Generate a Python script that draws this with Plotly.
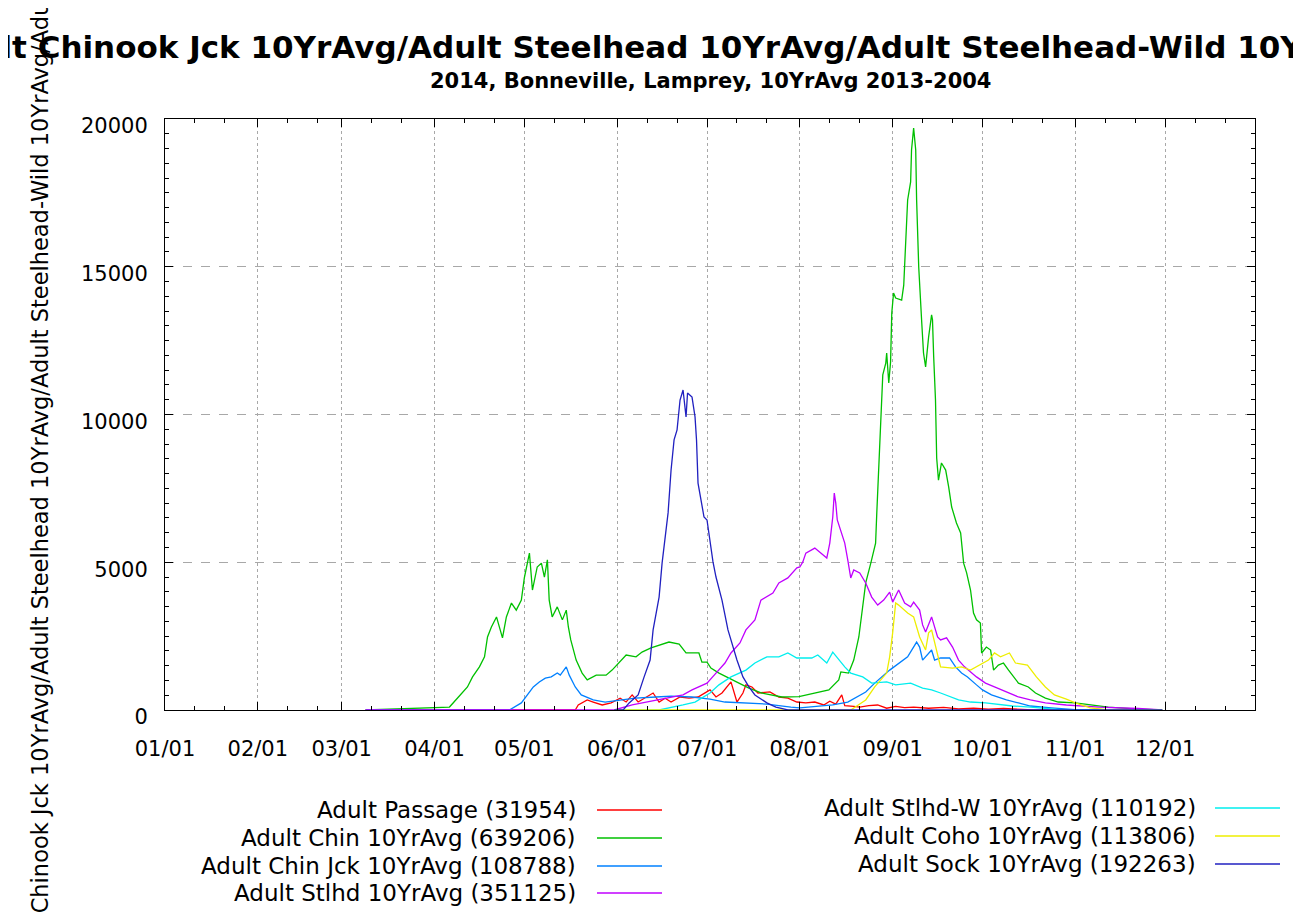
import plotly.graph_objects as go
import pandas as pd

# ---------------- data (day offsets from 2014-01-01, daily counts) ----------------
red_days = [67, 137, 138, 141, 143, 146, 149, 152, 154, 156, 158, 161, 163, 165, 167, 169, 172, 175, 178,
            182, 184, 186, 188, 189, 191, 193, 194, 196, 198, 202, 205, 208, 211, 214, 217, 220, 222, 224,
            226, 227, 230, 232, 235, 238, 241, 244, 247, 250, 255, 260, 265, 270, 275, 280, 290, 333]
red_vals = [0, 0, 170, 340, 270, 170, 240, 400, 270, 510, 270, 440, 575, 270, 400, 270, 440, 400, 440,
            680, 440, 575, 850, 950, 270, 575, 850, 780, 575, 610, 440, 400, 270, 240, 270, 170, 300, 200,
            510, 150, 120, 100, 150, 170, 60, 120, 80, 100, 60, 90, 40, 60, 30, 50, 0, 0]

green_days = [67, 95, 98, 101, 102.7, 105, 106.7, 107.7, 109, 110.7, 112.7, 114, 115.7, 117.3, 119, 120,
              121.7, 122.7, 124.3, 125.7, 126.7, 127.7, 128.3, 129.3, 131, 132.7, 134, 134.7, 135.5, 137.3,
              139.3, 141, 144, 147.3, 149.3, 151.7, 154, 157.3, 159.3, 162.3, 165, 168.3, 171.7, 172.7,
              174, 178.3, 179.3, 181, 182.3, 185, 189.3, 195, 199.3, 206, 211.7, 217.3, 221.7, 225, 225.7,
              228.3, 230, 231.7, 232.7, 234, 235.7, 237.3, 237.7, 238.3, 239, 239.7, 240.7, 241, 241.7,
              242.3, 242.7, 243.3, 244, 246, 246.7, 247.3, 248, 249, 249.3, 250, 250.7, 251, 251.7, 252.7,
              253.3, 254, 255, 256, 256.3, 256.7, 257.3, 257.7, 258.3, 259.3, 260.7, 261.7, 262.7, 264.3,
              265.7, 266.7, 267.7, 269, 270, 271, 272.3, 272.7, 274.3, 275.7, 276.7, 278.3, 280, 281.7,
              283.3, 285, 288.3, 290.7, 294, 298.3, 304, 315, 325, 333]
green_vals = [0, 100, 440, 780, 1120, 1460, 1800, 2470, 2810, 3150, 2440, 3150, 3620, 3380, 3720, 4470,
              5310, 4060, 4840, 4970, 4500, 5080, 3720, 3150, 3490, 3050, 3380, 2810, 2370, 1690,
              1250, 1020, 1180, 1180, 1350, 1620, 1860, 1800, 1960, 2100, 2200, 2300, 2230, 2100,
              1930, 1930, 1620, 1620, 1420, 1250, 1020, 740, 575, 440, 450, 575, 680, 1020, 1290,
              1250, 1690, 2470, 3280, 4300, 4970, 5650, 6670, 8190, 10050, 11340, 11740, 12080, 11070,
              11780, 13430, 14110, 13940, 13870, 14380, 15740, 17260, 17870, 18950, 19690, 18950, 17260, 14990, 13130,
              12080, 11610, 12620, 13370, 13200, 11950, 10490, 8530, 7780, 8360, 8120, 7550, 6870, 6330,
              5990, 4970, 4640, 4060, 3280, 3050, 2940, 1930, 2130, 2030, 1350, 1520, 1590, 1350,
              1120, 910, 780, 575, 400, 270, 240, 100, 30, 0]

jack_days = [67, 115, 119, 121, 123, 125, 127, 129, 131, 132, 134, 135, 137, 139, 143, 147, 152, 157, 164, 169,
             176, 182, 187, 192, 201, 209, 212, 223, 228, 234, 237, 242, 245, 248, 251, 252, 253, 255, 256, 257,
             259, 262, 264, 266, 268, 271, 273, 276, 281, 285, 289, 296, 305, 333]
jack_vals = [0, 0, 240, 510, 780, 950, 1080, 1120, 1250, 1180, 1460, 1180, 780, 510, 340, 270, 340, 400, 440, 470,
             440, 370, 270, 240, 200, 100, 70, 170, 270, 610, 910, 1350, 1590, 1800, 2300, 2130, 1690, 1930, 2030, 1690,
             1760, 1760, 1460, 1250, 1120, 850, 680, 510, 340, 240, 135, 70, 0, 0]

stlhd_days = [67, 150, 156, 163, 168, 173, 176, 181, 184, 187, 189, 192, 194, 197, 199, 203, 205, 208, 211, 212,
              213, 214, 217, 221, 222, 223, 223.5, 224, 224.5, 226, 227, 228, 229, 230, 232, 234, 236, 238, 240, 242,
              243, 245, 247, 249, 250, 252, 253, 254, 256, 258, 259, 261, 263, 265, 267, 271, 274, 278, 282, 285,
              289, 294, 301, 312, 325, 333]
stlhd_vals = [0, 0, 170, 300, 400, 510, 680, 910, 1250, 1590, 1930, 2270, 2710, 3050, 3720, 3960, 4300, 4470, 4810, 4840,
              5010, 5310, 5480, 5140, 5650, 6530, 7340, 7000, 6430, 5990, 5650, 5080, 4470, 4740, 4640, 4300, 3820, 3550, 3720, 3990,
              3650, 4060, 3620, 3490, 3650, 3380, 2880, 2640, 3150, 2470, 2370, 2440, 2130, 1690, 1460, 1120, 910, 740, 575, 440,
              340, 240, 170, 100, 50, 0]

wild_days = [150, 165, 173, 177, 182, 185, 189, 194, 197, 201, 205, 208, 211, 216, 218, 221, 223, 225, 227, 229,
             233, 236, 241, 244, 249, 253, 256, 259, 265, 269, 274, 283, 289, 300, 333]
wild_vals = [0, 0, 170, 270, 575, 850, 1120, 1350, 1590, 1800, 1800, 1930, 1760, 1760, 1860, 1590, 1960, 1690, 1460, 1250,
             1120, 910, 950, 850, 910, 740, 680, 575, 340, 270, 240, 135, 100, 0, 0]

coho_days = [150, 229, 234, 237, 241, 242, 243, 244, 245, 248, 250, 252, 254, 255, 256, 258, 259, 263, 266, 269,
             273, 275, 277, 279, 282, 284, 288, 291, 294, 297, 301, 304, 309, 315, 333]
coho_vals = [0, 0, 340, 780, 1250, 1800, 2610, 3620, 3550, 3280, 3150, 2470, 2030, 2610, 2710, 1800, 1460, 1420, 1460, 1350,
             1590, 1690, 1930, 1800, 1930, 1590, 1520, 1120, 780, 510, 370, 240, 70, 0, 0]

sock_days = [150, 153, 155, 158, 160, 162, 163, 165, 166, 168, 169, 170, 171, 172, 173, 174, 174.5, 176, 177, 177.5,
             178, 180, 181, 181.5, 183, 184, 186, 188, 191, 193, 195, 197, 201, 204, 208, 333]
sock_vals = [0, 0, 240, 510, 1120, 1690, 2710, 3820, 4970, 6670, 8120, 9140, 9480, 10490, 10830, 9920, 10730, 10590, 9920, 9140,
             7680, 6530, 6430, 6090, 5010, 4500, 3720, 2710, 1690, 1120, 780, 510, 240, 100, 0, 0]

series_names = ["Adult Passage (31954)", "Adult Chin 10YrAvg (639206)", "Adult Chin Jck 10YrAvg (108788)",
                "Adult Stlhd 10YrAvg (351125)", "Adult Stlhd-W 10YrAvg (110192)", "Adult Coho 10YrAvg (113806)",
                "Adult Sock 10YrAvg (192263)"]
series_colors = ["#ff0000", "#00c000", "#0080ff", "#c000ff", "#00eeee", "#eeee00", "#2020c0"]
series_days = [red_days, green_days, jack_days, stlhd_days, wild_days, coho_days, sock_days]
series_vals = [red_vals, green_vals, jack_vals, stlhd_vals, wild_vals, coho_vals, sock_vals]

title_text = ("Adult Passage/Adult Chinook 10YrAvg/Adult Chinook Jck 10YrAvg/Adult Steelhead 10YrAvg/"
              "Adult Steelhead-Wild 10YrAvg/Adult Coho 10YrAvg/Adult Sockeye 10YrAvg")
subtitle_text = "2014, Bonneville, Lamprey, 10YrAvg 2013-2004"

# ---------------- figure ----------------
BASE = pd.Timestamp("2014-01-01")


def to_dates(days):
    return [BASE + pd.Timedelta(days=d) for d in days]


# the page body adds an 8px offset; the figure is sized to fit the 1301x914 window
OFF = 8
W, H = 1301 - OFF, 914 - OFF
L, R, T, B = 165, 1255, 119, 710   # plot area in window pixels
FONT = "DejaVu Sans"


def px(x):
    return (x - L) / (R - L)


def py(y):
    return (B - y) / (B - T)


fig = go.Figure()
for name, col, d, v in zip(series_names, series_colors, series_days, series_vals):
    fig.add_trace(go.Scatter(x=to_dates(d), y=v, mode="lines", name=name,
                             line=dict(color=col, width=1.3)))

minor_x = []
for m in range(1, 13):
    for day in (11, 21):
        minor_x.append(pd.Timestamp(2014, m, day))

fig.update_layout(
    width=W, height=H,
    margin=dict(l=L - OFF, r=W - (R - OFF), t=T - OFF, b=H - (B - OFF), pad=0),
    paper_bgcolor="white", plot_bgcolor="white",
    showlegend=False,
    font=dict(family=FONT, size=21, color="black"),
    xaxis=dict(
        type="date", range=[BASE, BASE + pd.Timedelta(days=364)],
        tick0="2014-01-01", dtick="M1", tickformat="%m/%d",
        ticks="inside", ticklen=8, tickcolor="black", tickwidth=1,
        showline=True, linecolor="black", linewidth=1, mirror="allticks",
        showgrid=True, gridcolor="#a8a8a8", griddash="dot", gridwidth=1,
        zeroline=False, ticklabelstandoff=20,
        tickfont=dict(family=FONT, size=21, color="black"),
        minor=dict(tickvals=minor_x, ticks="inside", ticklen=4, tickcolor="black", showgrid=False),
    ),
    yaxis=dict(
        range=[0, 20000], tick0=0, dtick=5000, tickformat="d",
        ticks="inside", ticklen=8, tickcolor="black", tickwidth=1,
        showline=True, linecolor="black", linewidth=1, mirror="allticks",
        showgrid=True, gridcolor="#a8a8a8", griddash="dash", gridwidth=1,
        zeroline=False, ticklabelstandoff=12, ticklabelshift=7,
        tickfont=dict(family=FONT, size=21, color="black"),
        minor=dict(dtick=500, ticks="inside", ticklen=4, tickcolor="black", showgrid=False),
    ),
)

annotations = [
    dict(text="<b>" + title_text + "</b>", x=0.5, y=py(47), xref="paper", yref="paper",
         xanchor="center", yanchor="middle", showarrow=False,
         font=dict(family=FONT, size=31, color="black")),
    dict(text="<b>" + subtitle_text + "</b>", x=0.5, y=py(81), xref="paper", yref="paper",
         xanchor="center", yanchor="middle", showarrow=False,
         font=dict(family=FONT, size=21, color="black")),
    dict(text=title_text, x=px(40), y=py(482), xref="paper", yref="paper", textangle=-90,
         xanchor="center", yanchor="middle", showarrow=False,
         font=dict(family=FONT, size=22.5, color="black")),
]

# legend (two columns, right-aligned text followed by a line sample)
col_text_right = [578, 1198]
col_line = [(597, 662), (1215, 1280)]
row_y = [[810, 838, 866, 893], [808, 836, 864]]
shapes = []
idx = 0
for c in range(2):
    for ry in row_y[c]:
        annotations.append(dict(text=series_names[idx], x=px(col_text_right[c]), y=py(ry),
                                xref="paper", yref="paper", xanchor="right", yanchor="middle",
                                showarrow=False, font=dict(family=FONT, size=23, color="black")))
        shapes.append(dict(type="line", xref="paper", yref="paper",
                           x0=px(col_line[c][0]), x1=px(col_line[c][1]), y0=py(ry), y1=py(ry),
                           line=dict(color=series_colors[idx], width=1.3)))
        idx += 1

fig.update_layout(annotations=annotations, shapes=shapes)
fig.write_html("out.html")
